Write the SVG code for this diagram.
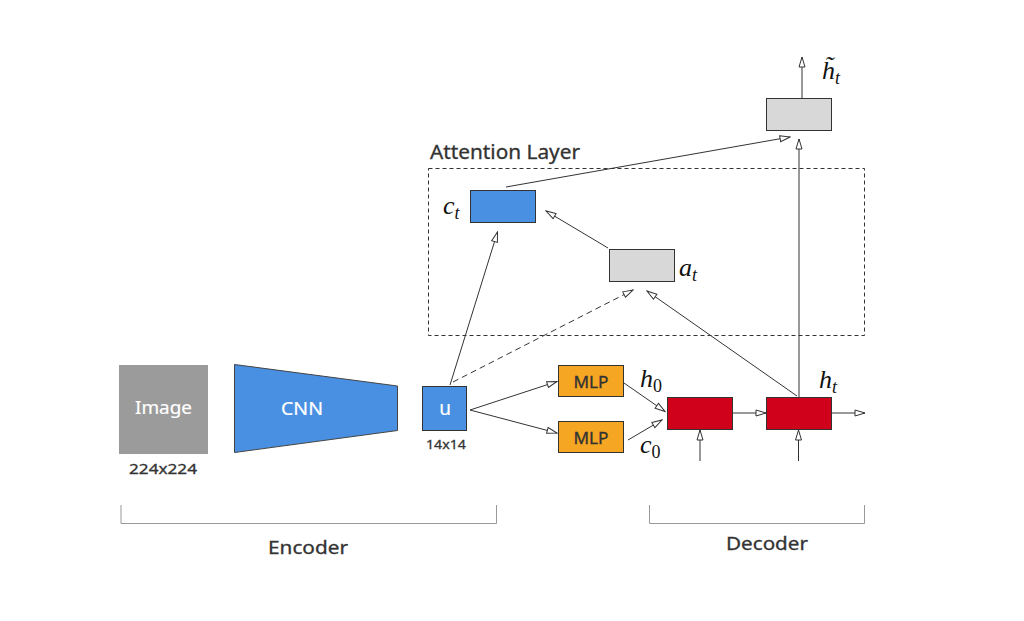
<svg xmlns="http://www.w3.org/2000/svg" width="1024" height="621" viewBox="0 0 1024 621">
<style>
.sans{font-family:"Noto Sans","Liberation Sans",Arial,sans-serif;fill:#333;stroke:#333;stroke-width:0.3}
.wt{font-family:"Noto Sans","Liberation Sans",Arial,sans-serif;fill:#fff;stroke:#fff;stroke-width:0.2}
.math{font-family:"Liberation Serif","Times New Roman",serif;font-style:italic;fill:#111;font-size:26px}
.sub{font-size:18px}
.up{font-style:normal}
.box{stroke:#333;stroke-width:1}
.ln{stroke:#333;stroke-width:1;fill:none}
.brk{stroke:#999;stroke-width:1;fill:none}
</style>
<defs>
<marker id="ah" markerWidth="12" markerHeight="8" refX="11" refY="4" orient="auto" markerUnits="userSpaceOnUse">
<path d="M1,1 L11,4 L1,7 z" fill="#fff" stroke="#333" stroke-width="1"/>
</marker>
</defs>
<rect width="1024" height="621" fill="#fff"/>

<g id="attention-layer">
<rect x="428.5" y="168.5" width="436" height="167" fill="none" stroke="#333" stroke-width="1" stroke-dasharray="4,3"/>
<text class="sans" x="430" y="159" font-size="19" textLength="150" lengthAdjust="spacingAndGlyphs">Attention Layer</text>
</g>

<g id="image">
<rect x="119" y="365" width="89" height="89" fill="#9B9B9B"/>
<text class="wt" x="163.5" y="414" font-size="18" text-anchor="middle" textLength="57" lengthAdjust="spacingAndGlyphs">Image</text>
<text class="sans" x="163" y="474" font-size="15" text-anchor="middle" textLength="68" lengthAdjust="spacingAndGlyphs">224x224</text>
</g>

<g id="cnn">
<polygon points="234.5,364.5 397.5,386 397.5,430.5 234.5,452.5" fill="#4A90E2" stroke="#444" stroke-width="1"/>
<text class="wt" x="302" y="415" font-size="18" text-anchor="middle" textLength="42" lengthAdjust="spacingAndGlyphs">CNN</text>
</g>

<g id="u">
<rect class="box" x="422.5" y="386.5" width="44" height="44" fill="#4A90E2"/>
<text class="wt" x="445" y="415" font-size="19" text-anchor="middle">u</text>
<text class="sans" x="446" y="449" font-size="13" text-anchor="middle" textLength="40" lengthAdjust="spacingAndGlyphs">14x14</text>
</g>

<g id="mlp-h">
<rect class="box" x="558.5" y="365.5" width="65" height="31" fill="#F5A623"/>
<text class="sans" x="591" y="388" font-size="16" text-anchor="middle" textLength="35" lengthAdjust="spacingAndGlyphs">MLP</text>
</g>

<g id="mlp-c">
<rect class="box" x="558.5" y="421.5" width="65" height="31" fill="#F5A623"/>
<text class="sans" x="591" y="444" font-size="16" text-anchor="middle" textLength="35" lengthAdjust="spacingAndGlyphs">MLP</text>
</g>

<g id="lstm-0">
<rect class="box" x="667.5" y="397.5" width="65" height="32" fill="#D0021B"/>
</g>

<g id="lstm-t">
<rect class="box" x="766.5" y="397.5" width="65" height="32" fill="#D0021B"/>
</g>

<g id="ct">
<rect class="box" x="470.5" y="190.5" width="65" height="32" fill="#4A90E2"/>
<text class="math" x="443" y="214">c<tspan class="sub" dy="5">t</tspan></text>
</g>

<g id="at">
<rect class="box" x="609.5" y="249.5" width="65" height="32" fill="#D8D8D8"/>
<text class="math" x="679" y="276">a<tspan class="sub" dy="5">t</tspan></text>
</g>

<g id="out">
<rect class="box" x="766.5" y="98.5" width="65" height="32" fill="#D8D8D8"/>
<text class="math" x="822" y="79">h&#x0303;<tspan class="sub" dy="5">t</tspan></text>
</g>

<g id="labels">
<text class="math" x="640" y="387">h<tspan class="sub up" dy="5">0</tspan></text>
<text class="math" x="640" y="453">c<tspan class="sub up" dy="5">0</tspan></text>
<text class="math" x="819" y="388">h<tspan class="sub" dy="5">t</tspan></text>
</g>

<g id="connectors">
<line class="ln" x1="802" y1="98" x2="802" y2="57" marker-end="url(#ah)"/>
<line class="ln" x1="506" y1="187" x2="790" y2="137" marker-end="url(#ah)"/>
<line class="ln" x1="799" y1="397" x2="799" y2="139" marker-end="url(#ah)"/>
<line class="ln" x1="608" y1="248" x2="546" y2="211" marker-end="url(#ah)"/>
<line class="ln" x1="450" y1="385" x2="497.5" y2="232" marker-end="url(#ah)"/>
<line class="ln" x1="453" y1="382" x2="633" y2="290" stroke-dasharray="6,4" marker-end="url(#ah)"/>
<line class="ln" x1="797" y1="396" x2="647" y2="291" marker-end="url(#ah)"/>
<line class="ln" x1="470" y1="410" x2="557" y2="381.5" marker-end="url(#ah)"/>
<line class="ln" x1="470" y1="410" x2="557" y2="433" marker-end="url(#ah)"/>
<line class="ln" x1="624" y1="383" x2="665" y2="411.5" marker-end="url(#ah)"/>
<line class="ln" x1="628" y1="440" x2="662" y2="420" marker-end="url(#ah)"/>
<line class="ln" x1="732" y1="413" x2="766" y2="413" marker-end="url(#ah)"/>
<line class="ln" x1="832" y1="413" x2="865" y2="413" marker-end="url(#ah)"/>
<line class="ln" x1="700" y1="461" x2="700" y2="430" marker-end="url(#ah)"/>
<line class="ln" x1="798.5" y1="461" x2="798.5" y2="430" marker-end="url(#ah)"/>
</g>

<g id="encoder-bracket">
<polyline class="brk" points="121,505 121,523.5 496.5,523.5 496.5,505"/>
<text class="sans" x="308" y="554" font-size="18" text-anchor="middle" textLength="80" lengthAdjust="spacingAndGlyphs">Encoder</text>
</g>

<g id="decoder-bracket">
<polyline class="brk" points="649.5,505 649.5,523.5 864.5,523.5 864.5,505"/>
<text class="sans" x="767" y="550" font-size="18" text-anchor="middle" textLength="82" lengthAdjust="spacingAndGlyphs">Decoder</text>
</g>
</svg>
